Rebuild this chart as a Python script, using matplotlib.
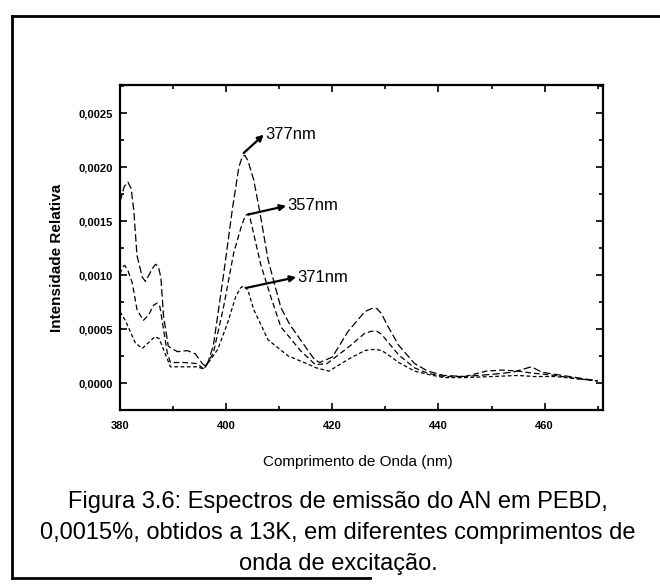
import matplotlib
matplotlib.use("Agg")
import matplotlib.pyplot as plt
from matplotlib.lines import Line2D
from matplotlib.ticker import MultipleLocator, FixedLocator

plt.rcParams['font.family'] = ['Liberation Sans', 'DejaVu Sans']

# emission spectra (wavelength in nm, relative intensity)
wl_377 = [380, 380.8, 381.5, 382.1, 382.6, 383.2, 384.2, 384.8, 386.1, 386.7, 387.2,
          387.7, 388.2, 389.1, 390.8, 392.7, 394.2, 395.5, 396.3, 397.6, 399.5,
          401.2, 402.4, 403.0, 403.5, 404.1, 405.2, 406.5, 407.9, 410.3, 412.0,
          414.0, 416.6, 417.6, 420.0, 423.0, 426.1, 427.4, 428.4, 429.3, 430.3,
          432.5, 435.5, 438.0, 441.0, 445.0, 450.0, 454.0, 457.5, 459.5, 462.0,
          466.0, 470.0]
int_377 = [0.00168, 0.00182, 0.00186, 0.00180, 0.00160, 0.00118, 0.00098, 0.00094, 0.00106,
           0.00110, 0.00108, 0.00098, 0.00062, 0.00034, 0.00029, 0.00030, 0.00027,
           0.00018, 0.00015, 0.00035, 0.00100, 0.00162, 0.00200, 0.00209, 0.00211,
           0.00206, 0.00188, 0.00154, 0.00114, 0.00070, 0.00054, 0.00040, 0.00022,
           0.00019, 0.00024, 0.00048, 0.00066, 0.00069, 0.00069, 0.00064, 0.00054,
           0.00035, 0.00018, 0.00011, 0.00007, 0.00006, 0.00008, 0.00010, 0.00015,
           0.00010, 0.00008, 0.00005, 0.00002]

wl_357 = [380, 380.4, 380.9, 381.5, 382.3, 383.2, 384.4, 385.4, 386.3, 387.0, 387.5,
          388.0, 388.9, 389.5, 392.0, 394.5, 395.8, 397.6, 399.5, 401.4, 402.8,
          403.6, 404.3, 405.2, 406.5, 408.4, 410.3, 412.0, 414.0, 416.8, 419.0,
          423.0, 426.1, 427.4, 428.4, 429.3, 430.3, 432.5, 435.5, 438.0, 441.0,
          445.0, 449.0, 452.0, 455.0, 458.0, 462.0, 466.0, 470.0]
int_357 = [0.00100, 0.00107, 0.00109, 0.00104, 0.00093, 0.00068, 0.00058, 0.00063, 0.00072,
           0.00074, 0.00071, 0.00056, 0.00028, 0.00019, 0.00019, 0.00018, 0.00013,
           0.00028, 0.00070, 0.00120, 0.00144, 0.00155, 0.00157, 0.00138, 0.00110,
           0.00080, 0.00052, 0.00042, 0.00030, 0.00017, 0.00018, 0.00033, 0.00046,
           0.00048, 0.00048, 0.00045, 0.00039, 0.00026, 0.00014, 0.00009, 0.00006,
           0.00006, 0.00011, 0.00012, 0.00011, 0.00009, 0.00007, 0.00004, 0.00002]

wl_371 = [380, 381.0, 382.9, 384.2, 385.5, 386.6, 387.4, 388.2, 389.5, 392.0, 394.5,
          395.8, 398.4, 400.3, 401.8, 402.7, 403.3, 404.1, 405.2, 407.9, 411.7,
          414.7, 417.0, 419.4, 423.0, 426.1, 427.4, 428.4, 429.3, 430.3, 432.5,
          435.5, 438.0, 441.0, 445.0, 450.0, 455.0, 458.0, 462.0, 466.0, 470.0]
int_371 = [0.00066, 0.00058, 0.00037, 0.00032, 0.00038, 0.00043, 0.00041, 0.00031, 0.00015,
           0.00015, 0.00015, 0.00013, 0.00031, 0.00056, 0.00080, 0.00088, 0.00090,
           0.00086, 0.00068, 0.00040, 0.00025, 0.00019, 0.00014, 0.00011, 0.00022,
           0.00030, 0.00031, 0.00031, 0.00030, 0.00027, 0.00019, 0.00011, 0.00008,
           0.00005, 0.00005, 0.00006, 0.00007, 0.00006, 0.00006, 0.00004, 0.00002]

# label text, peak the arrow starts from, label anchor
labels = ["377nm", "357nm", "371nm"]
arrow_from = [(403.3, 0.00213), (404.1, 0.00156), (403.7, 0.00088)]
label_at = [(407.3, 0.00230), (411.5, 0.00164), (413.4, 0.00098)]

y_ticks = [0.0, 0.0005, 0.0010, 0.0015, 0.0020, 0.0025]
y_ticklabels = ["0,0000", "0,0005", "0,0010", "0,0015", "0,0020", "0,0025"]
x_ticks = [380, 400, 420, 440, 460]

caption = ["Figura 3.6: Espectros de emissão do AN em PEBD,",
           "0,0015%, obtidos a 13K, em diferentes comprimentos de",
           "onda de excitação."]

W, H = 660, 587
fig = plt.figure(figsize=(W / 100, H / 100), dpi=100)
ax = fig.add_axes([120 / W, 1 - 410 / H, 483 / W, 325 / H])

ax.plot(wl_377, int_377, color='black', lw=0.9, dashes=(6, 2.5))
ax.plot(wl_357, int_357, color='black', lw=0.9, dashes=(4.5, 2.5))
ax.plot(wl_371, int_371, color='black', lw=0.9, dashes=(3, 2))

for txt, p0, p1 in zip(labels, arrow_from, label_at):
    ax.annotate(txt, xy=p1, xytext=p1, fontsize=12, va='center', ha='left')
    ax.annotate("", xy=(p1[0] - 0.2, p1[1]), xytext=p0,
                arrowprops=dict(arrowstyle='-|>', color='black', lw=1.6,
                                mutation_scale=9, shrinkA=0, shrinkB=0))

ax.set_xlim(380, 471)
ax.set_ylim(-0.00025, 0.00276)
ax.xaxis.set_major_locator(FixedLocator(x_ticks))
ax.xaxis.set_minor_locator(MultipleLocator(10))
ax.yaxis.set_major_locator(FixedLocator(y_ticks))
ax.yaxis.set_minor_locator(MultipleLocator(0.00025))
ax.set_xticklabels([str(t) for t in x_ticks], fontsize=8, fontweight='bold')
ax.set_yticklabels(y_ticklabels, fontsize=8, fontweight='bold')
ax.tick_params(which='both', direction='in', top=True, right=True, width=1.2)
ax.tick_params(which='major', length=5)
ax.tick_params(which='minor', length=3)
ax.tick_params(axis='x', pad=8)
ax.tick_params(axis='y', pad=5)
for s in ax.spines.values():
    s.set_linewidth(1.6)

fig.text(57 / W, 1 - 258 / H, "Intensidade Relativa", rotation=90, fontsize=11,
         fontweight='bold', ha='center', va='center')
fig.text(358 / W, 1 - 462 / H, "Comprimento de Onda (nm)", fontsize=11,
         ha='center', va='center')
for i, line in enumerate(caption):
    fig.text(338 / W, 1 - (502 + 31 * i) / H, line, fontsize=17,
             ha='center', va='center')

# outer frame of the scanned page
fig.add_artist(Line2D([12 / W, 1.0], [1 - 16 / H, 1 - 16 / H], color='black', lw=2))
fig.add_artist(Line2D([12 / W, 12 / W], [1 - 16 / H, 1 - 578 / H], color='black', lw=2))
fig.add_artist(Line2D([12 / W, 370 / W], [1 - 578 / H, 1 - 578 / H], color='black', lw=2))

fig.savefig("out.png", dpi=100)
